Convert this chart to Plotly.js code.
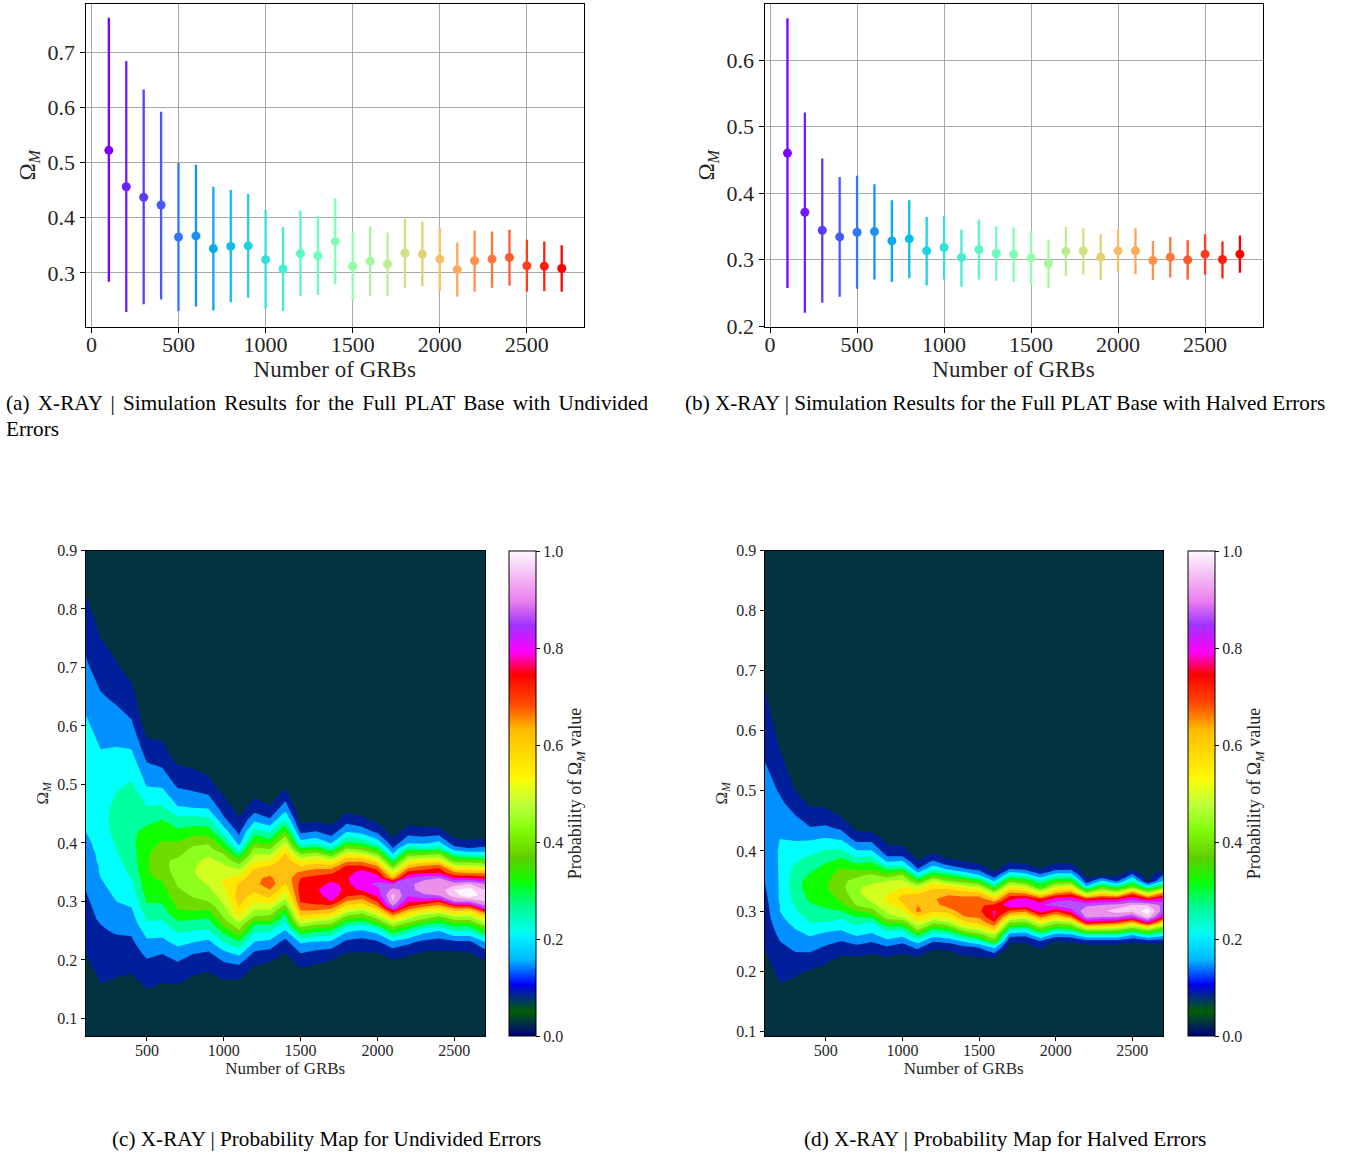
<!DOCTYPE html>
<html><head><meta charset="utf-8">
<script src="https://cdn.plot.ly/plotly-3.0.1.min.js"></script>
<style>html,body{margin:0;padding:0;background:#fff}</style></head>
<body><div id="chart" style="width:1359px;height:1155px"></div>
<script>
const nGRB=[100,200,300,400,500,600,700,800,900,1000,1100,1200,1300,1400,1500,1600,1700,1800,1900,2000,2100,2200,2300,2400,2500,2600,2700];
const meanA=[.522,.456,.437,.423,.365,.367,.344,.348,.349,.324,.307,.335,.331,.357,.312,.321,.316,.336,.334,.325,.306,.322,.325,.328,.313,.312,.308];
const upperA=[.762,.684,.632,.592,.499,.496,.456,.45,.443,.414,.383,.413,.403,.435,.374,.384,.373,.398,.393,.381,.355,.377,.375,.378,.36,.357,.35];
const lowerA=[.284,.229,.243,.252,.231,.239,.232,.247,.255,.235,.231,.258,.26,.279,.249,.258,.258,.273,.276,.267,.257,.266,.273,.277,.266,.267,.266];
const meanB=[.46,.371,.344,.334,.341,.342,.328,.331,.313,.318,.303,.315,.309,.3075,.3025,.294,.3125,.313,.3035,.313,.313,.2985,.3035,.2995,.308,.30,.308];
const upperB=[.663,.521,.452,.424,.426,.413,.389,.389,.364,.365,.345,.36,.35,.348,.343,.33,.349,.347,.338,.345,.347,.328,.334,.329,.338,.327,.336];
const lowerB=[.257,.22,.235,.244,.256,.27,.266,.272,.261,.27,.259,.27,.268,.266,.261,.257,.275,.278,.269,.28,.278,.269,.273,.27,.277,.272,.28];

// Omega_M rows of the two probability maps
const omegaC=[.07,.12,.15,.17,.19,.21,.23,.25,.26,.27,.28,.29,.30,.31,.32,.33,.34,.35,.36,.37,.38,.39,.40,.42,.44,.46,.50,.55,.60,.65,.70,.75,.80,.85,.90];
const omegaD=[.09,.14,.18,.20,.22,.24,.25,.26,.27,.28,.29,.30,.31,.32,.33,.34,.35,.36,.37,.38,.39,.40,.42,.44,.46,.48,.50,.55,.60,.65,.70,.75,.80,.85,.90];
// Probability x 180, one line per number of GRBs, one value per Omega_M row
const probC=[
[0,1,4,6,8,10,12,14,14,15,16,17,18,19,20,21,22,23,24,25,26,27,28,30,32,33,34,34,32,27,22,17,12,8,3],
[0,6,9,11,13,15,17,19,20,22,23,24,25,27,28,29,30,31,31,32,32,33,33,34,34,34,33,31,26,21,15,10,6,2,0],
[0,6,8,10,13,15,18,21,23,24,26,28,30,31,32,33,34,35,36,37,39,40,41,44,46,44,38,32,25,18,11,7,3,1,0],
[0,5,7,9,12,15,18,22,24,26,28,30,32,34,36,38,40,42,44,45,46,47,48,48,47,46,41,32,22,13,7,3,1,0,0],
[0,5,10,13,17,22,28,34,38,41,44,47,51,53,55,57,58,59,59,59,58,57,56,53,47,41,29,17,5,2,0,0,0,0,0],
[0,5,8,12,16,20,27,34,37,41,44,48,51,54,56,59,62,65,67,68,68,64,61,56,50,42,28,14,6,2,0,0,0,0,0],
[0,5,8,13,18,24,33,42,46,52,58,61,64,66,69,71,73,74,74,72,68,65,61,52,43,31,18,6,2,0,0,0,0,0,0],
[0,3,6,9,14,20,30,40,45,51,58,63,68,71,73,75,77,79,78,77,75,72,68,55,44,30,16,5,1,0,0,0,0,0,0],
[0,3,6,8,12,18,27,39,44,49,56,63,70,74,78,81,85,88,86,83,79,74,69,55,43,29,13,3,0,0,0,0,0,0,0],
[0,2,5,11,17,26,40,53,62,69,74,78,82,85,88,92,89,85,82,77,71,60,52,35,22,15,5,1,0,0,0,0,0,0,0],
[0,2,5,11,19,32,48,69,77,86,94,100,103,105,103,101,94,85,74,62,47,36,26,17,11,6,2,0,0,0,0,0,0,0,0],
[0,1,3,6,10,17,29,42,50,64,76,83,90,97,102,107,108,104,97,88,81,73,61,45,27,15,3,0,0,0,0,0,0,0,0],
[0,1,2,5,8,15,27,41,50,64,74,85,95,103,110,116,112,107,101,90,80,69,57,38,21,11,2,0,0,0,0,0,0,0,0],
[0,0,1,3,6,9,16,29,36,43,50,63,76,84,92,99,103,106,108,106,102,93,85,60,41,25,7,1,0,0,0,0,0,0,0],
[0,0,2,5,11,19,31,58,78,93,106,115,121,124,125,123,120,111,100,89,72,52,34,17,6,2,0,0,0,0,0,0,0,0,0],
[0,0,2,5,9,16,28,53,70,88,103,118,122,125,128,126,123,116,105,94,78,57,38,20,8,2,0,0,0,0,0,0,0,0,0],
[0,0,1,3,7,14,27,50,67,83,99,114,130,137,140,132,126,118,103,88,63,43,29,14,6,2,0,0,0,0,0,0,0,0,0],
[0,0,0,2,5,9,17,32,43,60,79,94,109,122,125,128,129,126,122,107,92,72,52,29,15,6,1,0,0,0,0,0,0,0,0],
[0,0,0,2,5,9,15,29,40,55,72,90,104,118,132,137,138,134,122,107,88,66,48,25,12,5,1,0,0,0,0,0,0,0,0],
[0,0,0,2,5,9,18,34,52,70,88,106,121,133,138,142,135,126,111,93,72,52,36,17,7,2,0,0,0,0,0,0,0,0,0],
[0,0,0,2,7,13,27,58,76,96,118,147,160,163,153,141,106,88,65,47,31,21,14,5,1,0,0,0,0,0,0,0,0,0,0],
[0,0,0,2,5,11,22,45,62,80,98,118,131,141,146,146,140,123,104,87,66,48,29,15,5,1,0,0,0,0,0,0,0,0,0],
[0,0,0,1,4,8,17,34,49,70,84,108,130,148,155,156,146,126,112,92,68,44,28,13,5,1,0,0,0,0,0,0,0,0,0],
[0,0,0,1,4,8,15,30,44,60,80,102,122,150,154,158,150,128,117,93,73,47,33,13,5,1,0,0,0,0,0,0,0,0,0],
[0,0,0,2,5,8,17,41,53,73,92,115,150,165,170,155,130,110,86,63,43,25,14,4,1,0,0,0,0,0,0,0,0,0,0],
[0,0,0,2,5,9,17,41,53,73,90,115,150,178,174,160,130,107,85,62,39,21,12,3,1,0,0,0,0,0,0,0,0,0,0],
[0,0,0,3,7,14,29,58,75,92,110,145,160,163,160,150,126,107,82,58,37,23,14,4,1,0,0,0,0,0,0,0,0,0,0]
];
const probD=[
[0,1,4,6,8,10,11,12,13,14,15,15,16,17,18,19,20,21,22,23,23,24,25,26,26,26,25,20,16,12,8,4,1,0,0],
[0,4,10,12,15,18,20,22,24,26,28,30,30,31,31,31,31,31,31,31,31,31,30,27,25,22,19,12,7,3,1,0,0,0,0],
[0,3,8,12,17,22,25,27,30,33,36,39,41,43,44,46,46,45,43,40,38,35,29,25,20,15,10,4,1,0,0,0,0,0,0],
[0,2,6,9,16,23,27,31,36,40,43,46,49,52,54,55,54,51,48,44,41,37,29,20,14,8,6,2,0,0,0,0,0,0,0],
[0,1,4,7,12,19,23,27,33,39,44,48,52,55,57,59,58,56,53,50,45,41,31,21,14,7,5,1,0,0,0,0,0,0,0],
[0,1,3,5,8,15,20,26,31,36,42,50,57,62,65,67,67,65,61,55,49,42,29,17,9,5,3,0,0,0,0,0,0,0,0],
[0,1,3,5,8,17,25,31,36,42,50,60,71,74,77,78,74,67,58,49,39,31,16,7,4,1,0,0,0,0,0,0,0,0,0],
[0,1,3,5,7,14,21,28,34,39,51,66,77,83,87,84,76,72,57,51,41,31,16,5,2,0,0,0,0,0,0,0,0,0,0],
[0,1,3,5,8,19,28,35,43,60,76,83,88,93,88,84,80,63,49,32,21,13,7,3,1,0,0,0,0,0,0,0,0,0,0],
[0,1,2,3,6,15,23,32,43,60,82,88,98,103,99,89,83,71,50,34,21,13,6,2,0,0,0,0,0,0,0,0,0,0,0],
[0,1,2,3,7,23,35,52,74,88,98,113,110,105,99,83,58,37,20,12,7,5,2,1,0,0,0,0,0,0,0,0,0,0,0],
[0,1,2,3,6,11,21,34,50,72,89,101,106,108,104,98,84,58,38,24,14,8,3,1,0,0,0,0,0,0,0,0,0,0,0],
[0,1,2,3,5,12,24,38,56,78,91,104,115,117,106,97,70,50,28,15,8,5,2,0,0,0,0,0,0,0,0,0,0,0,0],
[0,1,2,3,7,18,32,52,78,94,109,116,119,114,104,88,65,40,21,12,6,4,2,0,0,0,0,0,0,0,0,0,0,0,0],
[0,1,2,3,8,21,40,65,86,102,112,118,119,116,102,82,55,30,17,9,5,3,1,0,0,0,0,0,0,0,0,0,0,0,0],
[0,1,2,4,8,33,64,80,102,118,131,131,122,100,78,49,29,13,7,4,2,1,0,0,0,0,0,0,0,0,0,0,0,0,0],
[0,0,1,2,3,7,11,24,45,68,93,118,137,128,112,92,65,40,20,11,6,3,1,0,0,0,0,0,0,0,0,0,0,0,0],
[0,0,1,2,4,8,11,22,40,65,88,113,137,134,108,85,58,35,17,9,5,3,1,0,0,0,0,0,0,0,0,0,0,0,0],
[0,0,1,3,5,11,20,40,65,88,112,137,139,120,87,57,42,22,10,6,3,2,0,0,0,0,0,0,0,0,0,0,0,0,0],
[0,0,1,2,4,7,10,25,48,72,97,122,145,136,108,85,58,35,17,10,5,3,1,0,0,0,0,0,0,0,0,0,0,0,0],
[0,0,1,2,4,7,11,27,52,78,112,136,147,138,115,90,60,35,18,9,5,3,1,0,0,0,0,0,0,0,0,0,0,0,0],
[0,0,1,2,3,6,16,40,80,125,153,159,147,122,75,33,13,6,3,2,1,0,0,0,0,0,0,0,0,0,0,0,0,0,0],
[0,0,0,1,3,6,16,40,80,120,150,158,150,128,95,60,32,8,4,2,1,0,0,0,0,0,0,0,0,0,0,0,0,0,0],
[0,0,0,1,3,6,16,40,77,115,150,165,153,128,83,47,18,7,4,2,1,0,0,0,0,0,0,0,0,0,0,0,0,0,0],
[0,0,0,1,3,5,12,30,63,100,140,163,160,137,115,67,43,22,8,4,2,1,0,0,0,0,0,0,0,0,0,0,0,0,0],
[0,0,0,1,3,6,15,43,80,130,166,176,160,125,80,37,8,4,2,1,0,0,0,0,0,0,0,0,0,0,0,0,0,0,0],
[0,0,0,1,3,5,15,33,60,95,130,145,147,135,110,60,30,20,9,4,2,1,0,0,0,0,0,0,0,0,0,0,0,0,0]
];
const bandColors=['#023340','#00209b','#0090ff','#00ffff','#00ff9e','#10ff00','#6fdc00','#8cff1c','#d2ff20','#ffe800','#ffc010','#ff5e00','#ff0000','#f400ff','#b24fff','#ea8fea','#f8c8f4','#fff6ff'];

const W=1359,H=1155, serif='"Liberation Serif","Times New Roman",serif', ink='#262626';
const fx=p=>p/W, fy=p=>1-p/H;
// gist_ncar colormap
const ncarR=[[0,0],[.3098,0],[.3725,.3993],[.4235,.5003],[.5333,1],[.7922,1],[.8471,.6218],[.898,.9235],[1,.9961]];
const ncarG=[[0,0],[.051,.3722],[.1059,0],[.1569,.7202],[.2157,1],[.2588,.9804],[.2706,.9804],[.3176,1],[.3686,.8081],[.4275,1],[.5216,1],[.6314,.7292],[.6863,.2796],[.7451,0],[.7922,0],[.8431,.1753],[.898,.5],[1,.9725]];
const ncarB=[[0,.502],[.051,.0222],[.1098,1],[.2039,1],[.2627,.6145],[.3216,0],[.4157,0],[.4745,.2342],[.5333,0],[.7451,0],[.7922,1],[.8431,1],[.898,.9341],[1,.9961]];
const lerp=(t,x)=>{for(let i=1;i<t.length;i++){if(x<=t[i][0]){const a=t[i-1],b=t[i];return a[1]+(b[1]-a[1])*(x-a[0])/(b[0]-a[0]);}}return t[t.length-1][1];};
const stops=[...new Set([...ncarR,...ncarG,...ncarB].map(s=>s[0]))].sort((a,b)=>a-b);
const ncar=stops.map(x=>[x,`rgb(${Math.round(255*lerp(ncarR,x))},${Math.round(255*lerp(ncarG,x))},${Math.round(255*lerp(ncarB,x))})`]);
const bandScale=[];bandColors.forEach((c,k)=>{bandScale.push([k/18,c]);bandScale.push([(k+1)/18,c]);});
const rainbow=t=>`rgb(${Math.round(255*Math.min(1,Math.abs(2*t-.5)))},${Math.round(255*Math.sin(Math.PI*t))},${Math.round(255*Math.cos(Math.PI*t/2))})`;

const traces=[];
function errorPanel(xa,ya,m,u,l){
  nGRB.forEach((n,i)=>{const c=rainbow(i/(nGRB.length-1));
    traces.push({type:'scatter',mode:'markers',xaxis:xa,yaxis:ya,x:[n],y:[m[i]],showlegend:false,hoverinfo:'x+y',
      marker:{size:9,color:c},error_y:{type:'data',symmetric:false,array:[u[i]-m[i]],arrayminus:[m[i]-l[i]],color:c,thickness:2.3,width:0}});});
}
errorPanel('x','y',meanA,upperA,lowerA);
errorPanel('x2','y2',meanB,upperB,lowerB);
function mapPanel(xa,ya,om,pr,cbLeft){
  traces.push({type:'contour',xaxis:xa,yaxis:ya,x:nGRB,y:om,z:pr.map(c=>c.map(v=>v/180)),transpose:true,zmin:0,zmax:1,zauto:false,autocontour:false,
    contours:{coloring:'fill',showlines:false,start:1/18,end:17/18,size:1/18},line:{width:0,smoothing:0},colorscale:bandScale,showscale:false,hoverinfo:'x+y+z'});
  traces.push({type:'scatter',mode:'markers',xaxis:xa,yaxis:ya,x:[100,100],y:[-5,-5],showlegend:false,hoverinfo:'skip',
    marker:{color:[0,1],cmin:0,cmax:1,colorscale:ncar,showscale:true,size:1,colorbar:{
      x:fx(cbLeft),xanchor:'left',xpad:0,ypad:0,y:fy(793.5),yanchor:'middle',lenmode:'fraction',len:485/H,thicknessmode:'pixels',thickness:27,
      outlinewidth:1,outlinecolor:'#000',ticks:'outside',ticklen:4,tickwidth:1,tickcolor:'#000',tickvals:[0,.2,.4,.6,.8,1],ticktext:['0.0','0.2','0.4','0.6','0.8','1.0'],
      tickfont:{family:serif,size:16,color:ink},title:{text:'Probability of Ω<sub><i>M</i></sub> value',side:'right',font:{family:serif,size:18,color:ink}}}}});
}
mapPanel('x3','y3',omegaC,probC,509);
mapPanel('x4','y4',omegaD,probD,1188);

const topAxis=(l,r,rng)=>({domain:[fx(l),fx(r)],range:rng,tickvals:[0,500,1000,1500,2000,2500],showgrid:true,gridcolor:'#a8a8a8',gridwidth:1,zeroline:false,showline:true,mirror:true,linecolor:'#000',linewidth:1,ticks:'outside',ticklen:5,tickcolor:'#000',ticklabelstandoff:-7,tickfont:{family:serif,size:22,color:ink},title:{text:'Number of GRBs',font:{family:serif,size:23,color:ink},standoff:4}});
const topY=(rng,ticks)=>({domain:[fy(327),fy(3.5)],range:rng,tickvals:ticks,tickformat:'.1f',showgrid:true,gridcolor:'#a8a8a8',gridwidth:1,zeroline:false,showline:true,mirror:true,linecolor:'#000',linewidth:1,ticks:'outside',ticklen:5,tickcolor:'#000',tickfont:{family:serif,size:22,color:ink},title:{text:'Ω<sub><i>M</i></sub>',font:{family:serif,size:23,color:ink},standoff:5}});
const mapX=(l,r)=>({domain:[fx(l),fx(r)],range:[100,2700],tickvals:[500,1000,1500,2000,2500],showgrid:false,zeroline:false,showline:true,mirror:true,linecolor:'#000',linewidth:1,ticks:'outside',ticklen:4,tickcolor:'#000',ticklabelstandoff:-4,tickfont:{family:serif,size:16,color:ink},title:{text:'Number of GRBs',font:{family:serif,size:17,color:ink},standoff:2}});
const mapY=rng=>({domain:[fy(1036),fy(550.5)],range:rng,tickvals:[.1,.2,.3,.4,.5,.6,.7,.8,.9],tickformat:'.1f',showgrid:false,zeroline:false,showline:true,mirror:true,linecolor:'#000',linewidth:1,ticks:'outside',ticklen:4,tickcolor:'#000',tickfont:{family:serif,size:16,color:ink},title:{text:'Ω<sub><i>M</i></sub>',font:{family:serif,size:17,color:ink},standoff:4}});

const caption=(text,px,py,anchor)=>({text,xref:'paper',yref:'paper',x:fx(px),y:fy(py),xanchor:anchor,yanchor:'middle',showarrow:false,align:anchor,font:{family:serif,size:21.2,color:'#000'}});
const layout={width:W,height:H,margin:{l:0,r:0,t:0,b:0},paper_bgcolor:'#fff',plot_bgcolor:'#fff',showlegend:false,
  xaxis:{...topAxis(85.5,584,[-34,2828]),anchor:'y'},yaxis:{...topY([.202,.788],[.3,.4,.5,.6,.7]),anchor:'x'},
  xaxis2:{...topAxis(764.5,1262.5,[-32,2830]),anchor:'y2'},yaxis2:{...topY([.1985,.685],[.2,.3,.4,.5,.6]),anchor:'x2'},
  xaxis3:{...mapX(85.5,485),anchor:'y3'},yaxis3:{...mapY([.07,.9]),anchor:'x3'},
  xaxis4:{...mapX(764.5,1163),anchor:'y4'},yaxis4:{...mapY([.092,.9]),anchor:'x4'},
  annotations:[
    caption('(a) X-RAY | Simulation Results for the Full PLAT Base with Undivided',4,403.5,'left'),
    caption('Errors',4,429,'left'),
    caption('(b) X-RAY | Simulation Results for the Full PLAT Base with Halved Errors',683,403.5,'left'),
    caption('(c) X-RAY | Probability Map for Undivided Errors',326,1139,'center'),
    caption('(d) X-RAY | Probability Map for Halved Errors',1005,1139,'center')
  ]};
Plotly.newPlot('chart',traces,layout,{staticPlot:true,displayModeBar:false}).then(()=>{
  // the first caption line is justified in the reference
  document.querySelectorAll('.annotation-text').forEach(t=>{if(t.textContent.startsWith('(a)'))t.style.wordSpacing='3px';});
});
</script></body></html>
